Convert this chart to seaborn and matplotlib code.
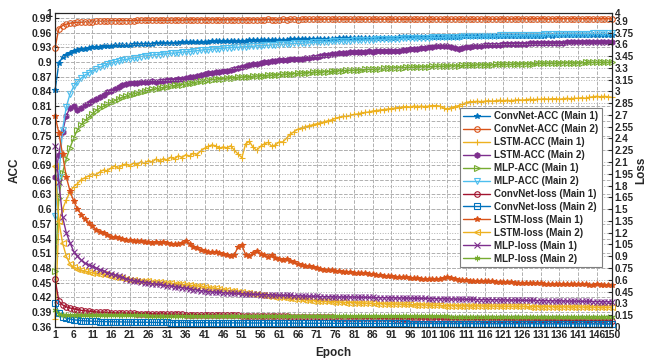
import numpy as np
import seaborn as sns
import matplotlib
matplotlib.use("Agg")
import matplotlib.pyplot as plt

epochs = np.arange(1, 151)

# accuracy curves (left axis)
convnet_acc_main1 = [
    0.842, 0.897, 0.910, 0.915, 0.919, 0.922, 0.924, 0.926, 0.927, 0.929,
    0.930, 0.931, 0.931, 0.932, 0.933, 0.933, 0.934, 0.934, 0.934, 0.935,
    0.935, 0.936, 0.936, 0.936, 0.937, 0.937, 0.937, 0.938, 0.938, 0.938,
    0.938, 0.939, 0.939, 0.939, 0.940, 0.940, 0.940, 0.940, 0.941, 0.941,
    0.941, 0.941, 0.942, 0.942, 0.942, 0.942, 0.942, 0.943, 0.943, 0.943,
    0.943, 0.943, 0.944, 0.944, 0.944, 0.944, 0.944, 0.945, 0.945, 0.945,
    0.945, 0.945, 0.945, 0.946, 0.946, 0.946, 0.946, 0.946, 0.946, 0.947,
    0.947, 0.947, 0.947, 0.947, 0.947, 0.947, 0.948, 0.948, 0.948, 0.948,
    0.948, 0.948, 0.948, 0.948, 0.949, 0.949, 0.949, 0.949, 0.949, 0.949,
    0.949, 0.949, 0.950, 0.950, 0.950, 0.950, 0.950, 0.950, 0.950, 0.950,
    0.951, 0.951, 0.951, 0.951, 0.951, 0.951, 0.951, 0.951, 0.951, 0.952,
    0.952, 0.952, 0.952, 0.952, 0.952, 0.952, 0.952, 0.952, 0.952, 0.952,
    0.953, 0.953, 0.953, 0.952, 0.953, 0.953, 0.953, 0.953, 0.953, 0.953,
    0.953, 0.953, 0.954, 0.953, 0.954, 0.954, 0.954, 0.954, 0.954, 0.954,
    0.954, 0.954, 0.954, 0.954, 0.955, 0.954, 0.955, 0.955, 0.955, 0.955,
]
convnet_acc_main2 = [
    0.929, 0.968, 0.974, 0.977, 0.979, 0.980, 0.981, 0.981, 0.982, 0.982,
    0.982, 0.983, 0.983, 0.983, 0.983, 0.984, 0.984, 0.984, 0.984, 0.984,
    0.984, 0.984, 0.985, 0.985, 0.985, 0.985, 0.985, 0.985, 0.985, 0.985,
    0.985, 0.985, 0.985, 0.986, 0.985, 0.986, 0.986, 0.986, 0.986, 0.986,
    0.986, 0.986, 0.986, 0.986, 0.986, 0.986, 0.986, 0.986, 0.986, 0.986,
    0.986, 0.986, 0.986, 0.986, 0.986, 0.986, 0.986, 0.987, 0.986, 0.986,
    0.986, 0.987, 0.986, 0.987, 0.987, 0.986, 0.987, 0.987, 0.987, 0.987,
    0.987, 0.987, 0.987, 0.987, 0.987, 0.987, 0.987, 0.987, 0.987, 0.987,
    0.987, 0.987, 0.987, 0.987, 0.987, 0.987, 0.987, 0.987, 0.987, 0.987,
    0.987, 0.987, 0.987, 0.987, 0.987, 0.987, 0.987, 0.987, 0.987, 0.987,
    0.987, 0.987, 0.987, 0.987, 0.987, 0.987, 0.987, 0.987, 0.987, 0.987,
    0.987, 0.987, 0.987, 0.987, 0.987, 0.988, 0.987, 0.987, 0.987, 0.987,
    0.988, 0.987, 0.987, 0.988, 0.987, 0.988, 0.988, 0.987, 0.988, 0.988,
    0.988, 0.988, 0.987, 0.988, 0.988, 0.988, 0.988, 0.988, 0.988, 0.988,
    0.988, 0.988, 0.988, 0.988, 0.988, 0.988, 0.988, 0.988, 0.988, 0.988,
]
lstm_acc_main1 = [
    0.376, 0.572, 0.600, 0.619, 0.635, 0.646, 0.652, 0.660, 0.664, 0.668,
    0.672, 0.670, 0.676, 0.680, 0.678, 0.684, 0.688, 0.683, 0.690, 0.692,
    0.688, 0.694, 0.690, 0.697, 0.693, 0.699, 0.696, 0.702, 0.698, 0.703,
    0.700, 0.706, 0.702, 0.709, 0.705, 0.711, 0.708, 0.714, 0.711, 0.719,
    0.724, 0.728, 0.731, 0.729, 0.724, 0.727, 0.725, 0.729, 0.720, 0.712,
    0.705, 0.733, 0.738, 0.726, 0.720, 0.728, 0.733, 0.736, 0.728, 0.731,
    0.737, 0.737, 0.745, 0.753, 0.758, 0.763, 0.766, 0.768, 0.770, 0.772,
    0.774, 0.776, 0.778, 0.780, 0.782, 0.785, 0.787, 0.789, 0.789, 0.791,
    0.793, 0.794, 0.796, 0.797, 0.798, 0.800, 0.801, 0.802, 0.803, 0.804,
    0.805, 0.806, 0.807, 0.808, 0.809, 0.808, 0.810, 0.809, 0.810, 0.809,
    0.810, 0.811, 0.811, 0.810, 0.806, 0.804, 0.807, 0.809, 0.811, 0.814,
    0.817, 0.819, 0.819, 0.820, 0.819, 0.820, 0.821, 0.820, 0.821, 0.822,
    0.821, 0.822, 0.821, 0.822, 0.823, 0.822, 0.823, 0.824, 0.823, 0.824,
    0.824, 0.825, 0.824, 0.825, 0.825, 0.824, 0.825, 0.826, 0.825, 0.826,
    0.826, 0.827, 0.826, 0.828, 0.829, 0.830, 0.829, 0.830, 0.829, 0.828,
]
lstm_acc_main2 = [
    0.665, 0.711, 0.758, 0.790, 0.807, 0.811, 0.803, 0.806, 0.812, 0.816,
    0.820, 0.825, 0.829, 0.833, 0.838, 0.841, 0.845, 0.849, 0.853, 0.856,
    0.857, 0.858, 0.857, 0.859, 0.860, 0.859, 0.861, 0.860, 0.862, 0.862,
    0.863, 0.864, 0.864, 0.865, 0.866, 0.867, 0.869, 0.870, 0.872, 0.874,
    0.876, 0.877, 0.878, 0.879, 0.880, 0.881, 0.882, 0.883, 0.885, 0.887,
    0.889, 0.892, 0.894, 0.895, 0.896, 0.898, 0.899, 0.900, 0.901, 0.902,
    0.903, 0.903, 0.904, 0.905, 0.905, 0.906, 0.907, 0.908, 0.909, 0.910,
    0.911, 0.912, 0.914, 0.915, 0.916, 0.917, 0.918, 0.919, 0.919, 0.920,
    0.920, 0.921, 0.921, 0.921, 0.922, 0.921, 0.922, 0.922, 0.923, 0.922,
    0.923, 0.922, 0.923, 0.924, 0.925, 0.926, 0.926, 0.927, 0.928, 0.929,
    0.930, 0.931, 0.932, 0.933, 0.933, 0.932, 0.930, 0.928, 0.927, 0.929,
    0.930, 0.931, 0.932, 0.933, 0.933, 0.934, 0.934, 0.935, 0.935, 0.935,
    0.936, 0.936, 0.936, 0.937, 0.937, 0.937, 0.937, 0.938, 0.938, 0.938,
    0.938, 0.938, 0.939, 0.939, 0.939, 0.939, 0.939, 0.940, 0.940, 0.940,
    0.940, 0.940, 0.940, 0.941, 0.941, 0.941, 0.941, 0.941, 0.941, 0.941,
]
mlp_acc_main1 = [
    0.473, 0.623, 0.674, 0.703, 0.725, 0.745, 0.762, 0.772, 0.780, 0.787,
    0.794, 0.801, 0.806, 0.810, 0.814, 0.818, 0.821, 0.825, 0.828, 0.830,
    0.833, 0.835, 0.837, 0.839, 0.841, 0.842, 0.844, 0.845, 0.847, 0.848,
    0.849, 0.851, 0.852, 0.853, 0.854, 0.855, 0.857, 0.858, 0.859, 0.861,
    0.862, 0.863, 0.864, 0.865, 0.866, 0.866, 0.867, 0.868, 0.868, 0.869,
    0.869, 0.870, 0.870, 0.871, 0.871, 0.872, 0.872, 0.873, 0.873, 0.874,
    0.874, 0.875, 0.875, 0.876, 0.876, 0.877, 0.877, 0.878, 0.878, 0.879,
    0.879, 0.879, 0.880, 0.880, 0.881, 0.881, 0.882, 0.882, 0.883, 0.883,
    0.883, 0.884, 0.884, 0.885, 0.885, 0.885, 0.886, 0.886, 0.887, 0.887,
    0.887, 0.888, 0.888, 0.888, 0.889, 0.889, 0.889, 0.890, 0.890, 0.890,
    0.890, 0.891, 0.891, 0.891, 0.891, 0.892, 0.892, 0.892, 0.892, 0.893,
    0.893, 0.893, 0.893, 0.894, 0.894, 0.894, 0.894, 0.894, 0.895, 0.895,
    0.895, 0.895, 0.895, 0.896, 0.896, 0.896, 0.896, 0.896, 0.896, 0.897,
    0.897, 0.897, 0.897, 0.897, 0.897, 0.898, 0.898, 0.898, 0.898, 0.898,
    0.898, 0.898, 0.899, 0.899, 0.899, 0.899, 0.899, 0.899, 0.899, 0.900,
]
mlp_acc_main2 = [
    0.586, 0.665, 0.762, 0.808, 0.835, 0.850, 0.860, 0.867, 0.873, 0.878,
    0.882, 0.886, 0.889, 0.892, 0.895, 0.898, 0.900, 0.902, 0.904, 0.905,
    0.907, 0.908, 0.909, 0.911, 0.912, 0.913, 0.914, 0.915, 0.915, 0.916,
    0.917, 0.918, 0.918, 0.919, 0.920, 0.921, 0.921, 0.922, 0.923, 0.924,
    0.925, 0.925, 0.926, 0.927, 0.927, 0.928, 0.929, 0.929, 0.930, 0.930,
    0.931, 0.931, 0.932, 0.932, 0.933, 0.933, 0.934, 0.934, 0.935, 0.935,
    0.936, 0.936, 0.937, 0.937, 0.938, 0.938, 0.938, 0.939, 0.939, 0.940,
    0.940, 0.940, 0.941, 0.941, 0.942, 0.942, 0.942, 0.943, 0.943, 0.943,
    0.944, 0.944, 0.944, 0.945, 0.945, 0.945, 0.946, 0.946, 0.946, 0.947,
    0.947, 0.947, 0.947, 0.948, 0.948, 0.948, 0.948, 0.949, 0.949, 0.949,
    0.949, 0.950, 0.950, 0.950, 0.950, 0.951, 0.951, 0.951, 0.951, 0.952,
    0.952, 0.952, 0.952, 0.952, 0.953, 0.953, 0.953, 0.953, 0.953, 0.954,
    0.954, 0.954, 0.954, 0.954, 0.954, 0.955, 0.955, 0.955, 0.955, 0.955,
    0.955, 0.956, 0.956, 0.956, 0.956, 0.956, 0.956, 0.957, 0.957, 0.957,
    0.957, 0.957, 0.957, 0.957, 0.958, 0.958, 0.958, 0.958, 0.958, 0.958,
]

# loss curves (right axis)
convnet_loss_main1 = [
    0.610, 0.330, 0.280, 0.255, 0.240, 0.230, 0.220, 0.210, 0.205, 0.200,
    0.195, 0.190, 0.188, 0.185, 0.183, 0.180, 0.178, 0.176, 0.175, 0.174,
    0.172, 0.171, 0.170, 0.169, 0.168, 0.167, 0.166, 0.165, 0.164, 0.163,
    0.162, 0.161, 0.160, 0.159, 0.158, 0.157, 0.157, 0.156, 0.155, 0.154,
    0.153, 0.152, 0.151, 0.150, 0.149, 0.148, 0.147, 0.146, 0.146, 0.145,
    0.144, 0.143, 0.142, 0.141, 0.140, 0.139, 0.138, 0.137, 0.136, 0.135,
    0.134, 0.133, 0.132, 0.131, 0.130, 0.129, 0.128, 0.127, 0.126, 0.125,
    0.124, 0.123, 0.122, 0.121, 0.120, 0.119, 0.118, 0.117, 0.116, 0.115,
    0.114, 0.113, 0.112, 0.112, 0.111, 0.110, 0.109, 0.109, 0.108, 0.107,
    0.107, 0.106, 0.105, 0.105, 0.104, 0.104, 0.103, 0.102, 0.102, 0.101,
    0.101, 0.100, 0.100, 0.099, 0.099, 0.098, 0.098, 0.097, 0.097, 0.096,
    0.096, 0.095, 0.095, 0.094, 0.094, 0.093, 0.093, 0.092, 0.092, 0.091,
    0.091, 0.090, 0.090, 0.089, 0.089, 0.088, 0.088, 0.088, 0.087, 0.087,
    0.086, 0.086, 0.086, 0.085, 0.085, 0.084, 0.084, 0.084, 0.083, 0.083,
    0.083, 0.082, 0.082, 0.082, 0.081, 0.081, 0.081, 0.080, 0.080, 0.080,
]
convnet_loss_main2 = [
    0.310, 0.180, 0.130, 0.110, 0.100, 0.090, 0.085, 0.080, 0.077, 0.074,
    0.072, 0.070, 0.068, 0.067, 0.066, 0.065, 0.064, 0.063, 0.062, 0.061,
    0.060, 0.060, 0.059, 0.059, 0.058, 0.058, 0.057, 0.057, 0.056, 0.056,
    0.056, 0.055, 0.055, 0.055, 0.054, 0.054, 0.054, 0.053, 0.053, 0.053,
    0.052, 0.052, 0.052, 0.052, 0.051, 0.051, 0.051, 0.051, 0.050, 0.050,
    0.050, 0.050, 0.049, 0.049, 0.049, 0.049, 0.049, 0.048, 0.048, 0.048,
    0.048, 0.048, 0.047, 0.047, 0.047, 0.047, 0.047, 0.047, 0.046, 0.046,
    0.046, 0.046, 0.046, 0.046, 0.045, 0.045, 0.045, 0.045, 0.045, 0.045,
    0.045, 0.044, 0.044, 0.044, 0.044, 0.044, 0.044, 0.044, 0.043, 0.043,
    0.043, 0.043, 0.043, 0.043, 0.043, 0.042, 0.042, 0.042, 0.042, 0.042,
    0.042, 0.042, 0.042, 0.041, 0.041, 0.041, 0.041, 0.041, 0.041, 0.041,
    0.041, 0.040, 0.040, 0.040, 0.040, 0.040, 0.040, 0.040, 0.040, 0.040,
    0.039, 0.039, 0.039, 0.039, 0.039, 0.039, 0.039, 0.039, 0.039, 0.039,
    0.038, 0.038, 0.038, 0.038, 0.038, 0.038, 0.038, 0.038, 0.038, 0.038,
    0.038, 0.037, 0.037, 0.037, 0.037, 0.037, 0.037, 0.037, 0.037, 0.037,
]
lstm_loss_main1 = [
    2.690, 2.470, 2.200, 1.910, 1.730, 1.600, 1.500, 1.430, 1.370, 1.320,
    1.280, 1.240, 1.210, 1.190, 1.170, 1.150, 1.140, 1.130, 1.120, 1.110,
    1.110, 1.100, 1.090, 1.090, 1.080, 1.080, 1.070, 1.080, 1.070, 1.080,
    1.070, 1.060, 1.050, 1.060, 1.070, 1.090, 1.060, 1.020, 1.000, 0.980,
    0.970, 0.960, 0.950, 0.950, 0.940, 0.930, 0.920, 0.900, 0.920, 1.020,
    1.040, 0.920, 0.900, 0.940, 0.970, 0.930, 0.910, 0.890, 0.910, 0.880,
    0.860, 0.850, 0.860, 0.840, 0.820, 0.800, 0.790, 0.780, 0.770, 0.760,
    0.750, 0.740, 0.730, 0.730, 0.720, 0.710, 0.710, 0.700, 0.700, 0.700,
    0.690, 0.690, 0.680, 0.680, 0.675, 0.670, 0.660, 0.660, 0.650, 0.650,
    0.645, 0.640, 0.635, 0.630, 0.630, 0.625, 0.620, 0.620, 0.615, 0.610,
    0.610, 0.610, 0.605, 0.615, 0.625, 0.630, 0.620, 0.610, 0.600, 0.600,
    0.595, 0.590, 0.590, 0.585, 0.585, 0.580, 0.580, 0.580, 0.575, 0.575,
    0.570, 0.570, 0.570, 0.565, 0.565, 0.560, 0.560, 0.560, 0.555, 0.555,
    0.555, 0.550, 0.550, 0.550, 0.545, 0.545, 0.545, 0.540, 0.540, 0.540,
    0.545, 0.540, 0.540, 0.535, 0.535, 0.540, 0.535, 0.535, 0.530, 0.535,
]
lstm_loss_main2 = [
    2.050, 1.350, 1.070, 0.900, 0.800, 0.760, 0.740, 0.720, 0.710, 0.700,
    0.690, 0.680, 0.675, 0.670, 0.665, 0.650, 0.640, 0.630, 0.620, 0.610,
    0.600, 0.595, 0.590, 0.585, 0.580, 0.580, 0.575, 0.570, 0.570, 0.565,
    0.560, 0.555, 0.550, 0.545, 0.540, 0.535, 0.530, 0.525, 0.520, 0.520,
    0.510, 0.500, 0.495, 0.490, 0.480, 0.475, 0.470, 0.460, 0.455, 0.450,
    0.440, 0.435, 0.430, 0.420, 0.415, 0.410, 0.400, 0.395, 0.390, 0.385,
    0.380, 0.375, 0.370, 0.365, 0.360, 0.355, 0.350, 0.345, 0.340, 0.335,
    0.330, 0.330, 0.325, 0.325, 0.320, 0.320, 0.315, 0.315, 0.310, 0.310,
    0.310, 0.305, 0.305, 0.300, 0.300, 0.300, 0.295, 0.295, 0.295, 0.290,
    0.290, 0.290, 0.290, 0.285, 0.285, 0.285, 0.280, 0.280, 0.280, 0.280,
    0.275, 0.275, 0.275, 0.275, 0.270, 0.270, 0.270, 0.270, 0.270, 0.270,
    0.268, 0.268, 0.267, 0.267, 0.266, 0.265, 0.265, 0.264, 0.264, 0.263,
    0.263, 0.262, 0.262, 0.261, 0.261, 0.260, 0.260, 0.259, 0.259, 0.258,
    0.258, 0.257, 0.257, 0.256, 0.256, 0.255, 0.255, 0.254, 0.254, 0.253,
    0.253, 0.253, 0.252, 0.252, 0.251, 0.251, 0.251, 0.250, 0.250, 0.250,
]
mlp_loss_main1 = [
    2.300, 1.850, 1.400, 1.200, 1.070, 0.960, 0.900, 0.850, 0.810, 0.790,
    0.770, 0.750, 0.730, 0.710, 0.690, 0.675, 0.660, 0.645, 0.630, 0.615,
    0.600, 0.590, 0.580, 0.575, 0.565, 0.560, 0.550, 0.545, 0.540, 0.530,
    0.525, 0.520, 0.510, 0.505, 0.500, 0.490, 0.485, 0.475, 0.470, 0.460,
    0.455, 0.450, 0.445, 0.440, 0.440, 0.435, 0.430, 0.430, 0.425, 0.425,
    0.420, 0.420, 0.415, 0.415, 0.415, 0.410, 0.410, 0.410, 0.405, 0.405,
    0.400, 0.400, 0.400, 0.400, 0.395, 0.395, 0.395, 0.390, 0.390, 0.390,
    0.390, 0.385, 0.385, 0.385, 0.385, 0.380, 0.380, 0.380, 0.380, 0.380,
    0.378, 0.377, 0.376, 0.375, 0.375, 0.374, 0.373, 0.372, 0.372, 0.371,
    0.370, 0.370, 0.369, 0.368, 0.367, 0.366, 0.365, 0.364, 0.363, 0.362,
    0.361, 0.360, 0.359, 0.358, 0.357, 0.356, 0.355, 0.354, 0.353, 0.352,
    0.351, 0.350, 0.349, 0.348, 0.347, 0.346, 0.346, 0.345, 0.344, 0.343,
    0.342, 0.341, 0.340, 0.340, 0.339, 0.338, 0.337, 0.336, 0.336, 0.335,
    0.334, 0.333, 0.332, 0.332, 0.331, 0.330, 0.329, 0.328, 0.328, 0.327,
    0.326, 0.325, 0.325, 0.324, 0.323, 0.322, 0.322, 0.321, 0.320, 0.320,
]
mlp_loss_main2 = [
    0.220, 0.160, 0.155, 0.152, 0.150, 0.150, 0.149, 0.149, 0.148, 0.148,
    0.148, 0.147, 0.147, 0.147, 0.147, 0.146, 0.146, 0.146, 0.146, 0.146,
    0.145, 0.145, 0.145, 0.145, 0.145, 0.144, 0.144, 0.144, 0.144, 0.144,
    0.143, 0.143, 0.143, 0.143, 0.143, 0.142, 0.142, 0.142, 0.142, 0.142,
    0.141, 0.141, 0.141, 0.141, 0.141, 0.140, 0.140, 0.140, 0.140, 0.140,
    0.140, 0.139, 0.139, 0.139, 0.139, 0.139, 0.139, 0.138, 0.138, 0.138,
    0.138, 0.138, 0.138, 0.137, 0.137, 0.137, 0.137, 0.137, 0.137, 0.136,
    0.136, 0.136, 0.136, 0.136, 0.136, 0.136, 0.135, 0.135, 0.135, 0.135,
    0.135, 0.135, 0.135, 0.134, 0.134, 0.134, 0.134, 0.134, 0.134, 0.134,
    0.133, 0.133, 0.133, 0.133, 0.133, 0.133, 0.133, 0.133, 0.132, 0.132,
    0.132, 0.132, 0.132, 0.132, 0.132, 0.132, 0.131, 0.131, 0.131, 0.131,
    0.131, 0.131, 0.131, 0.131, 0.131, 0.130, 0.130, 0.130, 0.130, 0.130,
    0.130, 0.130, 0.130, 0.130, 0.130, 0.129, 0.129, 0.129, 0.129, 0.129,
    0.129, 0.129, 0.129, 0.129, 0.129, 0.129, 0.128, 0.128, 0.128, 0.128,
    0.128, 0.128, 0.128, 0.128, 0.128, 0.128, 0.128, 0.128, 0.128, 0.128,
]

x_ticks = list(range(1, 150, 5)) + [150]
acc_ticks = list(np.round(np.arange(0.36, 0.991, 0.03), 2)) + [1.0]
loss_ticks = list(np.round(np.arange(0, 3.91, 0.15), 2)) + [4.0]

blue, orange, yellow = "#0072BD", "#D95319", "#EDB120"
purple, green, cyan, red = "#7E2F8E", "#77AC30", "#4DBEEE", "#A2142F"

# (values, label, colour, marker, hollow)
acc_series = [
    (convnet_acc_main1, "ConvNet-ACC (Main 1)", blue, "*", False),
    (convnet_acc_main2, "ConvNet-ACC (Main 2)", orange, "o", True),
    (lstm_acc_main1, "LSTM-ACC (Main 1)", yellow, "+", False),
    (lstm_acc_main2, "LSTM-ACC (Main 2)", purple, "h", False),
    (mlp_acc_main1, "MLP-ACC (Main 1)", green, ">", True),
    (mlp_acc_main2, "MLP-ACC (Main 2)", cyan, "v", True),
]
loss_series = [
    (convnet_loss_main1, "ConvNet-loss (Main 1)", red, "o", True),
    (convnet_loss_main2, "ConvNet-loss (Main 2)", blue, "s", True),
    (lstm_loss_main1, "LSTM-loss (Main 1)", orange, "*", False),
    (lstm_loss_main2, "LSTM-loss (Main 2)", yellow, "<", True),
    (mlp_loss_main1, "MLP-loss (Main 1)", purple, "x", False),
    (mlp_loss_main2, "MLP-loss (Main 2)", green, (6, 2, 0), False),
]

sns.set_theme(style="white")
plt.rcParams["font.family"] = ["Liberation Sans", "DejaVu Sans"]
plt.rcParams["font.weight"] = "bold"
plt.rcParams["axes.labelweight"] = "bold"

fig, ax = plt.subplots(figsize=(6.48, 3.58), dpi=100)
fig.subplots_adjust(left=0.085, right=0.944, bottom=0.087, top=0.964)
ax2 = ax.twinx()


def draw(axis, series):
    for vals, label, col, mk, hollow in series:
        sns.lineplot(x=epochs, y=vals, ax=axis, color=col, marker=mk,
                     markersize=4, linewidth=1, label=label,
                     markeredgecolor=col, markeredgewidth=0.8,
                     markerfacecolor="none" if hollow else col,
                     clip_on=False)


draw(ax, acc_series)
draw(ax2, loss_series)

ax.set_xlim(1, 150)
ax.set_ylim(0.36, 1.0)
ax2.set_ylim(0, 4)
ax.set_xticks(x_ticks)
ax.set_yticks(acc_ticks)
ax.set_yticklabels([f"{t:g}" for t in acc_ticks])
ax2.set_yticks(loss_ticks)
ax2.set_yticklabels([f"{t:g}" for t in loss_ticks])

ax.grid(True, ls="--", color="#b0b0b0", lw=0.7)
ax2.grid(True, axis="y", ls=":", color="#b0b0b0", lw=0.7)
ax.set_axisbelow(True)

for a, size in ((ax, 7.5), (ax2, 7)):
    a.tick_params(direction="in", length=3, width=0.8, labelsize=size,
                  pad=2, colors="#262626")
    for s in a.spines.values():
        s.set_color("#262626")
        s.set_linewidth(0.8)

ax.set_xlabel("Epoch", fontsize=8.5, labelpad=5)
ax.set_ylabel("ACC", fontsize=8.5, labelpad=8)
ax2.set_ylabel("Loss", fontsize=8.5, labelpad=1)

if ax.get_legend() is not None:
    ax.get_legend().remove()
h1, l1 = ax.get_legend_handles_labels()
h2, l2 = ax2.get_legend_handles_labels()
leg = ax2.legend(h1 + h2, l1 + l2, loc="upper right",
                 bbox_to_anchor=(0.982, 0.697), fontsize=7, frameon=True,
                 fancybox=False, edgecolor="#7f7f7f", framealpha=1,
                 labelspacing=0.3, handlelength=2.8, handletextpad=0.4,
                 borderpad=0.35, borderaxespad=0)
leg.get_frame().set_linewidth(0.8)
leg.set_zorder(10)

fig.savefig("out.png", dpi=100)
